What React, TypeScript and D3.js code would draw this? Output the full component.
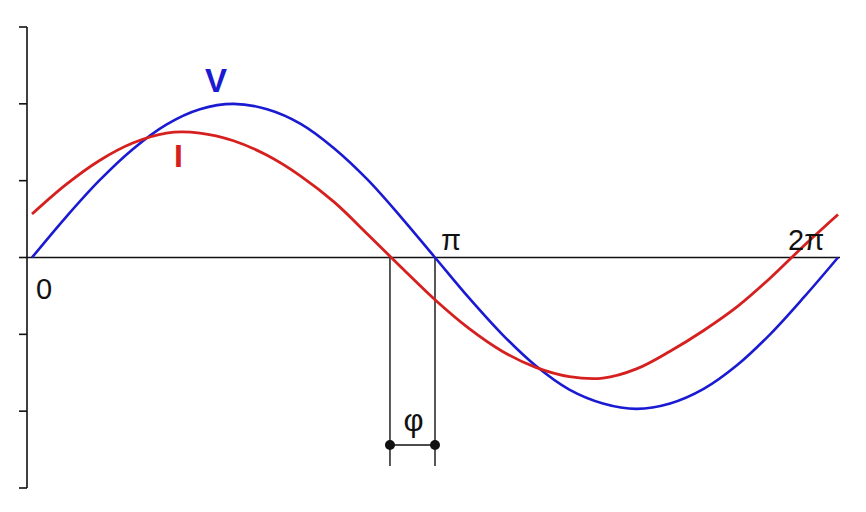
import React from "react";
import * as d3 from "d3";

// angle steps in units of pi/12
const steps = d3.range(0, 25);
// voltage V (blue), units of axis ticks
const vValues = [0, 0.52, 1.0, 1.41, 1.73, 1.93, 2.0, 1.93, 1.74, 1.42, 1.01, 0.52, 0,
  -0.52, -1.0, -1.41, -1.72, -1.9, -1.97, -1.9, -1.71, -1.4, -0.99, -0.51, 0];
// current I (red)
const iValues = [0.565, 0.945, 1.26, 1.49, 1.62, 1.62, 1.52, 1.33, 1.06, 0.72, 0.3, -0.13, -0.55,
  -0.92, -1.22, -1.43, -1.55, -1.57, -1.45, -1.22, -0.95, -0.64, -0.26, 0.16, 0.56];
const yTicks = [-3, -2, -1, 0, 1, 2, 3];
const phaseLead = 0.351; // radians
const xLabels = [
  { v: 0, t: "0" },
  { v: Math.PI, t: "π" },
  { v: 2 * Math.PI, t: "2π" },
];

export default function App() {
  const W = 866, H = 512;
  const x = d3.scaleLinear().domain([0, 2 * Math.PI]).range([32, 838]);
  const y = d3.scaleLinear().domain([-3, 3]).range([488, 27]);
  const ang = (k: number) => (k * Math.PI) / 12;
  const line = d3.line<number>()
    .x((_, i) => x(ang(steps[i])))
    .y((d) => y(d))
    .curve(d3.curveCatmullRom.alpha(0.5));
  const axisX = 27;
  const phiL = x(Math.PI - phaseLead);
  const phiR = x(Math.PI);
  const markY = 445;
  const font = "'Liberation Sans', Arial, sans-serif";
  return (
    <svg width={W} height={H} style={{ position: "absolute", left: 0, top: 0, background: "#fff" }}>
      {/* vertical axis */}
      <line x1={axisX} x2={axisX} y1={y(3)} y2={y(-3)} stroke="#111" strokeWidth={1.6} />
      {yTicks.map((t) => (
        <line key={t} x1={axisX - 8} x2={axisX} y1={y(t)} y2={y(t)} stroke="#111" strokeWidth={1.6} />
      ))}
      {/* horizontal axis */}
      <line x1={axisX} x2={840} y1={y(0)} y2={y(0)} stroke="#111" strokeWidth={1.6} />
      {/* phi marker */}
      <line x1={phiL} x2={phiL} y1={y(0)} y2={466} stroke="#111" strokeWidth={1.4} />
      <line x1={phiR} x2={phiR} y1={y(0)} y2={466} stroke="#111" strokeWidth={1.4} />
      <line x1={phiL} x2={phiR} y1={markY} y2={markY} stroke="#111" strokeWidth={1.4} />
      <circle cx={phiL} cy={markY} r={5} fill="#111" />
      <circle cx={phiR} cy={markY} r={5} fill="#111" />
      <text x={(phiL + phiR) / 2 + 1} y={431} fontSize={31} fontFamily={font} textAnchor="middle" fill="#111">φ</text>
      {/* curves */}
      <path d={line(vValues) || ""} fill="none" stroke="#1a1ad2" strokeWidth={2.6} />
      <path d={line(iValues) || ""} fill="none" stroke="#d62020" strokeWidth={2.8} />
      {/* x labels */}
      <text x={x(0) + 4} y={299} fontSize={29} fontFamily={font} fill="#111">{xLabels[0].t}</text>
      <text x={x(xLabels[1].v) + 6} y={250} fontSize={29} fontFamily={font} fill="#111">{xLabels[1].t}</text>
      <text x={x(xLabels[2].v) - 50} y={250} fontSize={29} fontFamily={font} fill="#111">{xLabels[2].t}</text>
      {/* series labels */}
      <text x={216} y={92} fontSize={33} fontWeight="bold" fontFamily={font} fill="#1a1ad2" textAnchor="middle">V</text>
      <text x={178.5} y={167} fontSize={32} fontWeight="bold" fontFamily={font} fill="#d62020" textAnchor="middle">I</text>
    </svg>
  );
}
